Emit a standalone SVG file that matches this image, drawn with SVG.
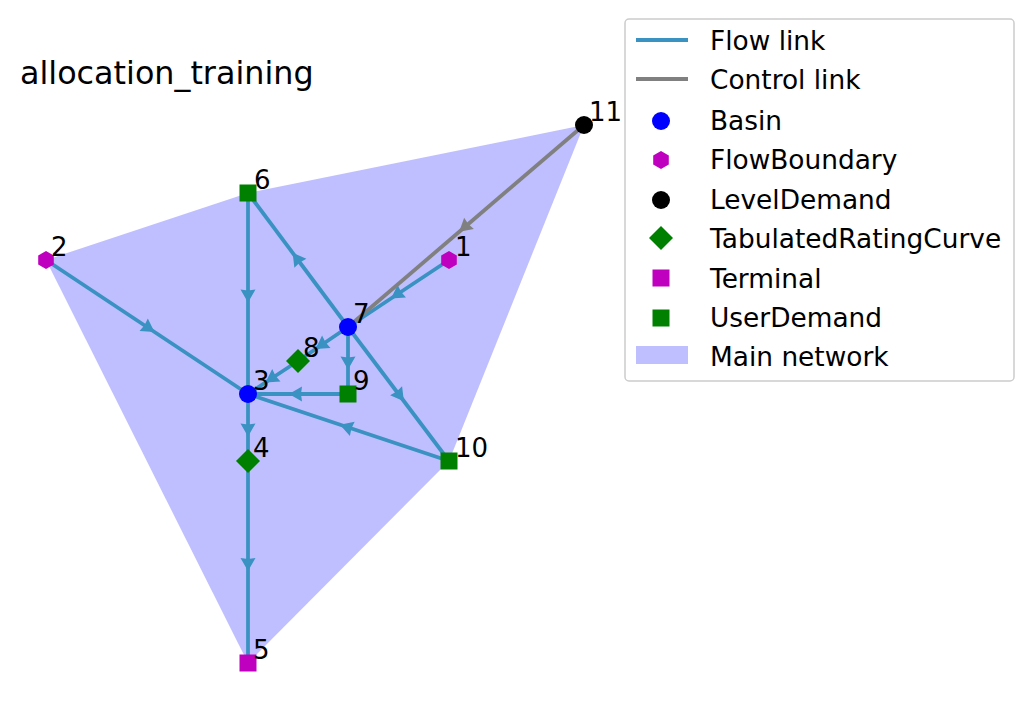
<svg xmlns="http://www.w3.org/2000/svg" width="1032" height="709" viewBox="0 0 1032 709">
<style>
text{font-family:"DejaVu Sans",sans-serif;fill:#000}
.lbl{font-size:26px}
.flow{stroke:#3a92c2;stroke-width:3.8;fill:none;marker-mid:url(#af)}
.ctrl{stroke:#808080;stroke-width:3.8;fill:none;marker-mid:url(#ac)}
.basin{fill:#0000ff}
.fb{fill:#bf00bf}
.green{fill:#008000}
.term{fill:#bf00bf}
.leg{font-size:26.4px}
</style>
<defs>
<marker id="af" markerUnits="userSpaceOnUse" viewBox="-10 -10 20 20" markerWidth="20" markerHeight="20" refX="0" refY="0" orient="auto" overflow="visible">
<path d="M9,0 L-4,-7.5 L-3,0 L-4,7.5 Z" fill="#3a92c2"/>
</marker>
<marker id="ac" markerUnits="userSpaceOnUse" viewBox="-10 -10 20 20" markerWidth="20" markerHeight="20" refX="0" refY="0" orient="auto" overflow="visible">
<path d="M9,0 L-4,-7.5 L-3,0 L-4,7.5 Z" fill="#808080"/>
</marker>
<path id="hex" d="M0,-9 L7.8,-4.5 L7.8,4.5 L0,9 L-7.8,4.5 L-7.8,-4.5 Z"/>
</defs>
<rect width="1032" height="709" fill="#ffffff"/>
<text x="20" y="84" style="font-size:31.8px">allocation_training</text>
<polygon id="hull" points="46,260 248,193 584,125 449,461 248,663" fill="#bfbfff"/>
<g id="connectors">
<path class="flow" d="M449,260 L398.5,293.5 L348,327"/>
<path class="flow" d="M46,260 L147,327 L248,394"/>
<path class="flow" d="M248,193 L248,293.5 L248,394"/>
<path class="flow" d="M348,327 L298,260 L248,193"/>
<path class="flow" d="M348,327 L323,344 L298,361"/>
<path class="flow" d="M298,361 L273,377.5 L248,394"/>
<path class="flow" d="M348,327 L348,360.5 L348,394"/>
<path class="flow" d="M348,394 L298,394 L248,394"/>
<path class="flow" d="M348,327 L398.5,394 L449,461"/>
<path class="flow" d="M449,461 L348.5,427.5 L248,394"/>
<path class="flow" d="M248,394 L248,427.5 L248,461"/>
<path class="flow" d="M248,461 L248,562 L248,663"/>
<path class="ctrl" d="M584,125 L466,226 L348,327"/>
</g>
<g id="node1"><use href="#hex" x="449" y="260" class="fb"/><text class="lbl" x="455" y="256">1</text></g>
<g id="node2"><use href="#hex" x="46" y="260" class="fb"/><text class="lbl" x="51" y="256">2</text></g>
<g id="node3"><circle cx="248" cy="394" r="9" class="basin"/><text class="lbl" x="253" y="390">3</text></g>
<g id="node4"><rect x="239.5" y="452.5" width="17" height="17" class="green" transform="rotate(45 248 461)"/><text class="lbl" x="253" y="457">4</text></g>
<g id="node5"><rect x="239.5" y="654.5" width="17" height="17" class="term"/><text class="lbl" x="253" y="659">5</text></g>
<g id="node6"><rect x="239.5" y="184.5" width="17" height="17" class="green"/><text class="lbl" x="254" y="189">6</text></g>
<g id="node7"><circle cx="348" cy="327" r="9" class="basin"/><text class="lbl" x="353" y="323">7</text></g>
<g id="node8"><rect x="289.5" y="352.5" width="17" height="17" class="green" transform="rotate(45 298 361)"/><text class="lbl" x="303" y="357">8</text></g>
<g id="node9"><rect x="339.5" y="385.5" width="17" height="17" class="green"/><text class="lbl" x="353" y="390">9</text></g>
<g id="node10"><rect x="440.5" y="452.5" width="17" height="17" class="green"/><text class="lbl" x="455" y="457">10</text></g>
<g id="node11"><circle cx="584" cy="125" r="9" fill="#000"/><text class="lbl" x="589" y="121">11</text></g>
<g id="legend">
<rect x="625" y="19" width="389" height="362" rx="4" fill="#fff" fill-opacity="0.8" stroke="#cccccc" stroke-width="1.5"/>
<line x1="636" y1="40" x2="688" y2="40" stroke="#3a92c2" stroke-width="3.8"/>
<text class="leg" x="710" y="50">Flow link</text>
<line x1="636" y1="79" x2="688" y2="79" stroke="#808080" stroke-width="3.8"/>
<text class="leg" x="710" y="89">Control link</text>
<circle cx="661" cy="121" r="9" class="basin"/>
<text class="leg" x="710" y="130">Basin</text>
<use href="#hex" x="661" y="160" class="fb"/>
<text class="leg" x="710" y="169">FlowBoundary</text>
<circle cx="661" cy="200" r="9" fill="#000"/>
<text class="leg" x="710" y="209">LevelDemand</text>
<rect x="652.5" y="229.5" width="17" height="17" class="green" transform="rotate(45 661 238)"/>
<text class="leg" x="710" y="248">TabulatedRatingCurve</text>
<rect x="652.5" y="269.5" width="17" height="17" class="term"/>
<text class="leg" x="710" y="288">Terminal</text>
<rect x="652.5" y="309.5" width="17" height="17" class="green"/>
<text class="leg" x="710" y="327">UserDemand</text>
<rect x="636" y="346" width="52" height="18" fill="#bfbfff"/>
<text class="leg" x="710" y="366">Main network</text>
</g>
</svg>
